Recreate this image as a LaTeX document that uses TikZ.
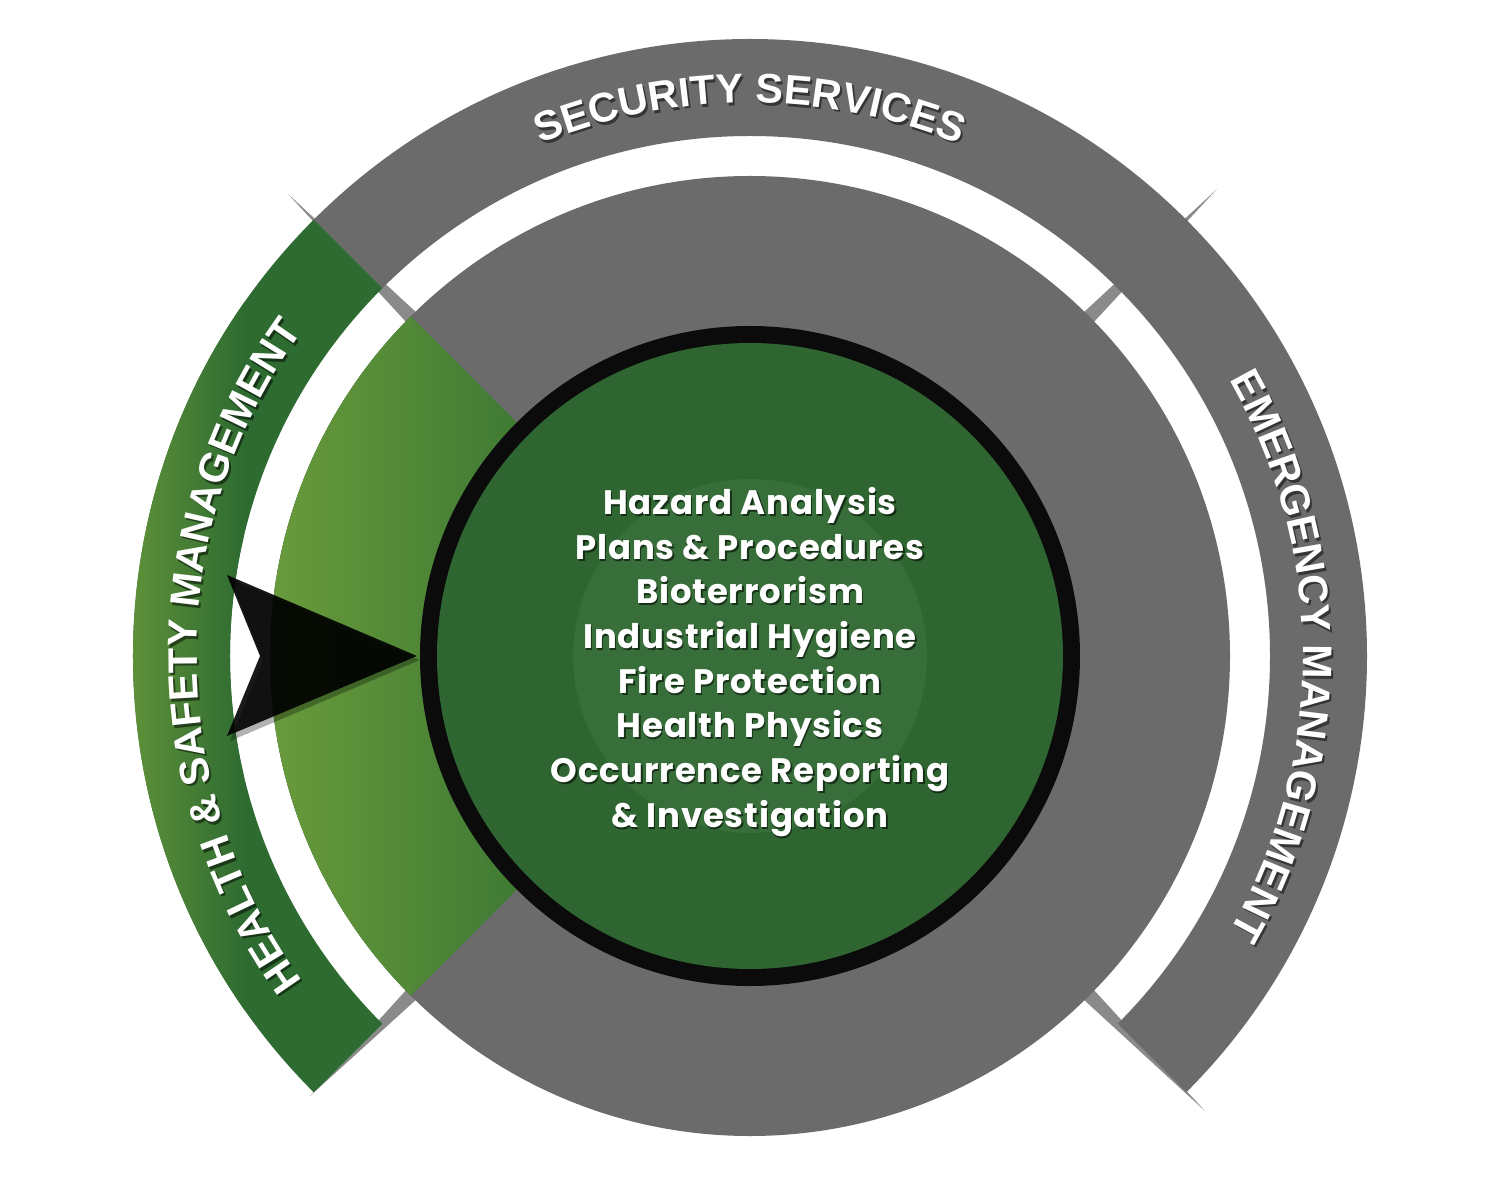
\documentclass[tikz,border=0pt]{standalone}
\usepackage{fontspec}
\usetikzlibrary{decorations.text}
\newfontfamily\popfont{Poppins}[LetterSpace=2.5]
\newfontfamily\labfont{Liberation Sans}
\definecolor{ringgray}{HTML}{6B6B6B}
\definecolor{slivergray}{HTML}{8A8A8A}
\definecolor{darkgreen}{HTML}{2E6B31}
\definecolor{bandlight}{HTML}{5F9139}
\definecolor{wedgelight}{HTML}{699B3B}
\definecolor{wedgedark}{HTML}{3F7A34}
\definecolor{innergreen}{HTML}{2E6530}
\definecolor{glowgreen}{HTML}{376E39}
\definecolor{ringblack}{HTML}{0B0B0B}
\tikzset{
  listtext/.style={align=center, inner sep=0pt,
    font=\popfont\bfseries\fontsize{19.3}{25.4}\selectfont},
  ringlabel/.style n args={2}{decorate, decoration={text along path,
    text align=center, text color=#2,
    text={|\labfont\bfseries\fontsize{23.5}{28}\selectfont|#1}}}
}
\begin{document}
\begin{tikzpicture}[x=0.02cm,y=0.02cm]
\useasboundingbox (-750,-544) rectangle (750,656);
% slivers
\foreach \a/\r in {45/660,135/653,225/622,315/643}{
  \fill[slivergray] (\a+0.9:470) -- (\a:\r) -- (\a-0.9:470) -- cycle;}
% outer gray ring (emergency + security)
\fill[ringgray] (-45:617) arc[start angle=-45,end angle=135,radius=617]
  -- (135:520) arc[start angle=135,end angle=-45,radius=520] -- cycle;
% health band
\fill[darkgreen] (135:617) arc[start angle=135,end angle=225,radius=617]
  -- (225:520) arc[start angle=225,end angle=135,radius=520] -- cycle;
\begin{scope}
  \clip (135:617) arc[start angle=135,end angle=225,radius=617]
    -- (225:520) arc[start angle=225,end angle=135,radius=520] -- cycle;
  \shade[left color=bandlight,right color=darkgreen] (-620,-620) rectangle (-505,620);
\end{scope}
% big disk
\fill[ringgray] (0,0) circle[radius=480];
\begin{scope}
  \clip (0,0) -- (135:480) arc[start angle=135,end angle=225,radius=480] -- cycle;
  \fill[wedgedark] (-480,-480) rectangle (0,480);
  \shade[left color=wedgelight,right color=wedgedark] (-480,-480) rectangle (-230,480);
\end{scope}
% inner circle
\fill[ringblack] (0,0) circle[radius=330];
\fill[innergreen] (0,0) circle[radius=313];
\fill[glowgreen] (0,0) circle[radius=177];
% arrow
\fill[black,opacity=0.3] (-520,77) -- (-330,-4) -- (-520,-85) -- (-487,-4) -- cycle;
\fill[black,fill opacity=0.9] (-523,81) -- (-333,0) -- (-523,-80) -- (-490,0) -- cycle;
% list text
\node[listtext, text=black, opacity=0.55] (listshadow) at (1.5,-8)
  {Hazard Analysis\\Plans \& Procedures\\Bioterrorism\\Industrial Hygiene\\Fire Protection\\Health Physics\\Occurrence Reporting\\\& Investigation};
\node[listtext, text=white] (list) at (0,-6)
  {Hazard Analysis\\Plans \& Procedures\\Bioterrorism\\Industrial Hygiene\\Fire Protection\\Health Physics\\Occurrence Reporting\\\& Investigation};
% ring labels: shadows
\begin{scope}[opacity=0.5,shift={(2,-2.5)}]
  \path[ringlabel={SECURITY SERVICES}{black}] (150:553) arc[start angle=150,end angle=30,radius=553];
  \path[ringlabel={HEALTH {\&} SAFETY MANAGEMENT}{black}] (240:553) arc[start angle=240,end angle=120,radius=553];
  \path[ringlabel={EMERGENCY MANAGEMENT}{black}] (60:553) arc[start angle=60,end angle=-60,radius=553];
\end{scope}
\path[ringlabel={SECURITY SERVICES}{white}] (150:553) arc[start angle=150,end angle=30,radius=553];
\path[ringlabel={HEALTH {\&} SAFETY MANAGEMENT}{white}] (240:553) arc[start angle=240,end angle=120,radius=553];
\path[ringlabel={EMERGENCY MANAGEMENT}{white}] (60:553) arc[start angle=60,end angle=-60,radius=553];
\end{tikzpicture}
\end{document}
